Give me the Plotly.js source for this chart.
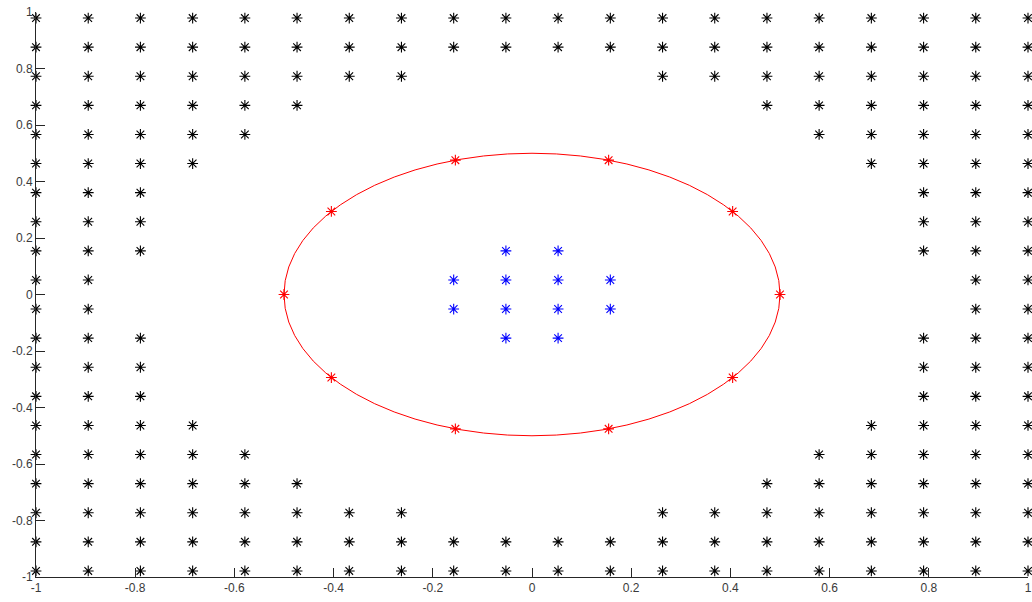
<!DOCTYPE html>
<html>
<head>
<meta charset="utf-8">
<script src="https://cdn.plot.ly/plotly-3.0.1.min.js"></script>
<style>
  html, body { margin: 0; padding: 0; background: #ffffff; }
  #chart { width: 1032px; height: 602px; }
</style>
</head>
<body>
<div id="chart"></div>
<script>
// Grid columns (x) and rows (y, top to bottom) of the sample lattice
const gridX = [-1, -0.8947, -0.7895, -0.6842, -0.5789, -0.4737, -0.3684, -0.2632, -0.1579, -0.0526,
               0.0526, 0.1579, 0.2632, 0.3684, 0.4737, 0.5789, 0.6842, 0.7895, 0.8947, 1];
const gridY = [0.9785, 0.8755, 0.7725, 0.6695, 0.5665, 0.4635, 0.3605, 0.2575, 0.1545, 0.0515,
               -0.0515, -0.1545, -0.2575, -0.3605, -0.4635, -0.5665, -0.6695, -0.7725, -0.8755, -0.9785];
// Number of outer lattice points kept on each side of every row
const outerPerSide = [10, 10, 8, 6, 5, 4, 3, 3, 3, 2, 2, 3, 3, 3, 4, 5, 6, 8, 10, 10];

// Inner cluster points
const innerX = [-0.0526, 0.0526, -0.1579, -0.0526, 0.0526, 0.1579, -0.1579, -0.0526, 0.0526, 0.1579, -0.0526, 0.0526];
const innerY = [0.1545, 0.1545, 0.0515, 0.0515, 0.0515, 0.0515, -0.0515, -0.0515, -0.0515, -0.0515, -0.1545, -0.1545];

// Boundary circle and the points sampled on it
const circleCenter = [0, 0];
const circleRadius = 0.5;
const ringX = [0.5, 0.4045, 0.1545, -0.1545, -0.4045, -0.5, -0.4045, -0.1545, 0.1545, 0.4045];
const ringY = [0, 0.2939, 0.4755, 0.4755, 0.2939, 0, -0.2939, -0.4755, -0.4755, -0.2939];

// Axis ticks
const tickVals = [-1, -0.8, -0.6, -0.4, -0.2, 0, 0.2, 0.4, 0.6, 0.8, 1];
const tickText = ['-1', '-0.8', '-0.6', '-0.4', '-0.2', '0', '0.2', '0.4', '0.6', '0.8', '1'];

// Expand the lattice rows into point lists
const outerX = [], outerY = [];
gridY.forEach((y, r) => {
  const n = outerPerSide[r];
  gridX.forEach((x, c) => {
    if (c < n || c >= gridX.length - n) { outerX.push(x); outerY.push(y); }
  });
});

const star = (color) => ({ symbol: 'asterisk-open', size: 9, color: color, line: { color: color, width: 1.1 } });

const traces = [
  { x: outerX, y: outerY, type: 'scatter', mode: 'markers', marker: star('#000000'), cliponaxis: false, hoverinfo: 'x+y' },
  { x: ringX, y: ringY, type: 'scatter', mode: 'markers', marker: star('#ff0000'), cliponaxis: false, hoverinfo: 'x+y' },
  { x: innerX, y: innerY, type: 'scatter', mode: 'markers', marker: star('#0000ff'), cliponaxis: false, hoverinfo: 'x+y' }
];

const axisCommon = {
  range: [-1, 1],
  tickmode: 'array',
  tickvals: tickVals,
  ticktext: tickText,
  ticks: 'inside',
  ticklen: 9,
  tickwidth: 1,
  tickcolor: '#262626',
  showline: true,
  linecolor: '#262626',
  linewidth: 1,
  mirror: false,
  showgrid: false,
  zeroline: false,
  tickfont: { family: 'Liberation Sans, Arial, sans-serif', size: 12, color: '#3a3a3a' }
};

const layout = {
  width: 1032,
  height: 602,
  margin: { l: 36, r: 4, t: 12, b: 25 },
  paper_bgcolor: '#ffffff',
  plot_bgcolor: '#ffffff',
  showlegend: false,
  xaxis: Object.assign({}, axisCommon),
  yaxis: Object.assign({}, axisCommon),
  shapes: [{
    type: 'circle',
    xref: 'x', yref: 'y',
    x0: circleCenter[0] - circleRadius, x1: circleCenter[0] + circleRadius,
    y0: circleCenter[1] - circleRadius, y1: circleCenter[1] + circleRadius,
    line: { color: '#ff0000', width: 1 },
    layer: 'above'
  }]
};

Plotly.newPlot('chart', traces, layout, { displayModeBar: false, staticPlot: true });
</script>
</body>
</html>
